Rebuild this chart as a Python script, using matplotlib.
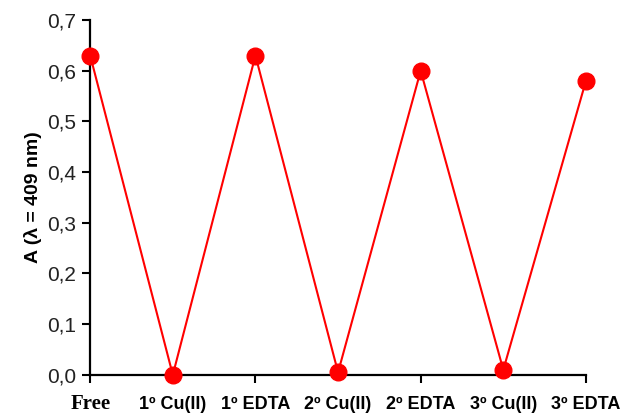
import matplotlib
matplotlib.use('Agg')
import matplotlib.pyplot as plt
from matplotlib.ticker import FuncFormatter
import numpy as np

plt.rcParams['font.family'] = ['Liberation Sans', 'DejaVu Sans']

steps = ['Free', '1º Cu(II)', '1º EDTA', '2º Cu(II)', '2º EDTA', '3º Cu(II)', '3º EDTA']
absorb = [0.63, 0.0, 0.63, 0.005, 0.60, 0.01, 0.58]

fig = plt.figure(figsize=(6.22, 4.17), dpi=100)
ax = fig.add_axes([0.145, 0.101, 0.797, 0.851])

x = np.arange(len(steps))
ax.plot(x, absorb, color='#ff0000', lw=1.5, marker='o', ms=12,
        mec='#ff0000', mfc='#ff0000', clip_on=False, zorder=5)

ax.set_xlim(0, 6)
ax.set_ylim(0, 0.7)
ax.spines[['top', 'right']].set_visible(False)
for s in ['left', 'bottom']:
    ax.spines[s].set_linewidth(1.6)

ax.set_yticks(np.arange(0, 0.71, 0.1))
ax.yaxis.set_major_formatter(FuncFormatter(lambda v, p: f'{v:.1f}'.replace('.', ',')))
ax.tick_params(axis='y', labelsize=15, length=6, width=1.5, colors='black',
               labelcolor='#222222', pad=4)

ax.set_xticks(x)
ax.set_xticklabels(steps)
ax.tick_params(axis='x', length=6, width=1.5, pad=18.5, labelsize=13)
for i, t in enumerate(ax.xaxis.get_major_ticks()):
    if i % 2 == 1:
        t.tick1line.set_visible(False)
for lab in ax.get_xticklabels():
    lab.set_fontweight('bold')
    lab.set_verticalalignment('baseline')
    if lab.get_text() == 'Free':
        lab.set_family('Liberation Serif')
        lab.set_fontsize(15)

ax.set_ylabel('A (λ = 409 nm)', fontsize=14, fontweight='bold', labelpad=4)

fig.savefig('out.png', dpi=100)
